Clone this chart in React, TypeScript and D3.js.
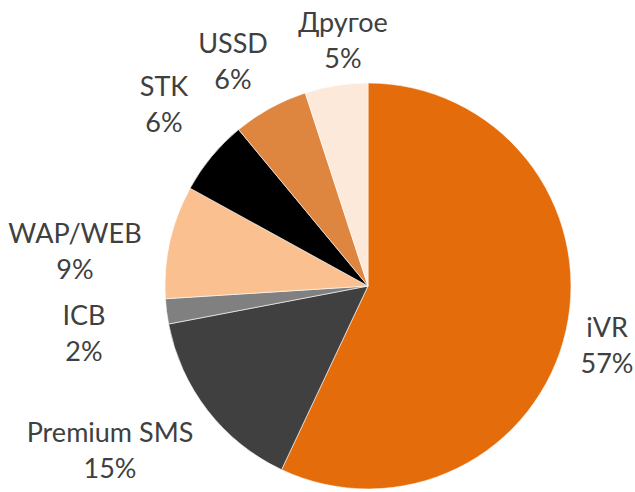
import React from "react";
import * as d3 from "d3";

const categories = ["iVR", "Premium SMS", "ICB", "WAP/WEB", "STK", "USSD", "Другое"];
const values = [57, 15, 2, 9, 6, 6, 5];
const percentLabels = ["57%", "15%", "2%", "9%", "6%", "6%", "5%"];
const colors = ["#E46C0A", "#404040", "#808080", "#FAC090", "#000000", "#DE8540", "#FDE9D9"];

// label anchor layout (center x, first-line baseline)
const labelLayout: [number, number][] = [
  [607, 337],
  [110, 442],
  [84, 325],
  [75, 243],
  [164, 96],
  [233, 53],
  [343, 32],
];

const W = 635;
const H = 492;
const CX = 368;
const CY = 286;
const R = 203;
const LINE = 36;

export default function App() {
  const pie = d3.pie<number>().sort(null).value((d) => d)(values);
  const arc = d3.arc<d3.PieArcDatum<number>>().innerRadius(0).outerRadius(R);
  return (
    <svg
      width={W}
      height={H}
      style={{ position: "absolute", left: 0, top: 0, background: "#fff" }}
    >
      <g transform={`translate(${CX},${CY})`}>
        {pie.map((p, i) => (
          <path key={i} d={arc(p) || ""} fill={colors[i]} stroke="#ffffff" strokeWidth={0.6} />
        ))}
      </g>
      {categories.map((c, i) => (
        <text
          key={c}
          x={labelLayout[i][0]}
          y={labelLayout[i][1]}
          textAnchor="middle"
          fontFamily="Lato, 'Open Sans', sans-serif"
          fontSize={27}
          fill="#404040"
        >
          <tspan x={labelLayout[i][0]}>{c}</tspan>
          <tspan x={labelLayout[i][0]} dy={LINE}>
            {percentLabels[i]}
          </tspan>
        </text>
      ))}
    </svg>
  );
}
